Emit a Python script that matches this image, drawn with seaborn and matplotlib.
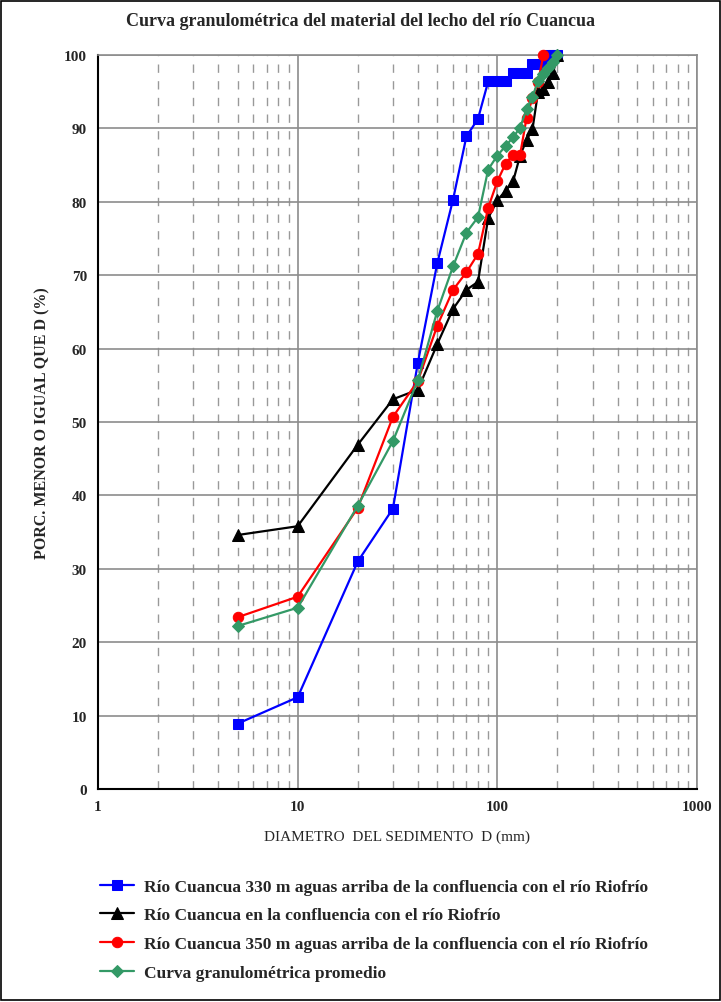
import numpy as np
import pandas as pd
import matplotlib
matplotlib.use('Agg')
from matplotlib import pyplot as plt
from matplotlib.ticker import LogLocator, NullFormatter, FixedLocator
import seaborn as sns

# diametros (mm)
diam = [5, 10, 20, 30, 40, 50, 60, 70, 80, 90, 100, 110, 120, 130, 140,
        150, 160, 170, 180, 190, 200]
diam_rojo = diam[:18]

aguas_arriba_330 = [8.9, 12.5, 31.0, 38.2, 58.1, 71.6, 80.3, 88.9, 91.3, 96.4,
                    96.4, 96.4, 97.6, 97.6, 97.6, 98.8, 98.8, 98.8, 100.0,
                    100.0, 100.0]
confluencia = [34.6, 35.8, 46.9, 53.1, 54.4, 60.6, 65.4, 68.0, 69.1, 77.8,
               80.2, 81.5, 82.8, 86.3, 88.4, 89.9, 95.0, 95.4, 96.3, 97.5,
               100.0]
aguas_arriba_350 = [23.4, 26.2, 38.3, 50.7, 55.6, 63.1, 68.0, 70.4, 72.9, 79.2,
                    82.8, 85.2, 86.4, 86.4, 91.4, 94.2, 96.3, 100.0]
promedio = [22.2, 24.7, 38.6, 47.4, 55.7, 65.1, 71.2, 75.8, 77.9, 84.4,
            86.3, 87.6, 88.8, 90.1, 92.6, 94.3, 96.5, 97.4, 98.2, 99.0,
            100.0]

etiquetas = [
    'Río Cuancua 330 m aguas arriba de la confluencia con el río Riofrío',
    'Río Cuancua en la confluencia con el río Riofrío',
    'Río Cuancua 350 m aguas arriba de la confluencia con el río Riofrío',
    'Curva granulométrica promedio',
]

sns.set_style('white')
plt.rcParams['font.family'] = ['Liberation Serif', 'DejaVu Serif']

fig = plt.figure(figsize=(7.21, 10.03), dpi=100)
ax = fig.add_axes([98 / 721, 1 - 790 / 1003, 599 / 721, 734 / 1003])

series = [
    (diam, aguas_arriba_330, '#0000FF', 's', 7.5),
    (diam, confluencia, '#000000', '^', 8),
    (diam_rojo, aguas_arriba_350, '#FF0000', 'o', 7.5),
    (diam, promedio, '#339966', 'D', 6),
]
for (x, y, col, mk, ms), lab in zip(series, etiquetas):
    df = pd.DataFrame({'D': x, 'P': y})
    sns.lineplot(data=df, x='D', y='P', ax=ax, color=col, marker=mk,
                 markersize=ms, markeredgecolor=col, linewidth=1.6,
                 sort=False, label=lab, clip_on=False, zorder=5)

ax.set_xscale('log')
ax.set_xlim(1, 1000)
ax.set_ylim(0, 100)
ax.xaxis.set_major_locator(FixedLocator([1, 10, 100, 1000]))
ax.xaxis.set_minor_locator(LogLocator(base=10, subs=np.arange(2, 10)))
ax.xaxis.set_minor_formatter(NullFormatter())
ax.set_xticklabels(['1', '10', '100', '1000'])
ax.set_yticks(range(0, 101, 10))

ax.grid(True, which='major', axis='both', color='#8c8c8c', linewidth=1.2,
        linestyle='-')
ax.grid(True, which='minor', axis='x', color='#999999', linewidth=1.0,
        linestyle=(0, (6, 6)))
ax.set_axisbelow(True)

for s in ['top', 'right']:
    ax.spines[s].set_color('#8c8c8c')
    ax.spines[s].set_linewidth(1.2)
for s in ['left', 'bottom']:
    ax.spines[s].set_color('black')
    ax.spines[s].set_linewidth(1.5)

ax.tick_params(axis='both', which='both', length=0, labelsize=11, pad=8)
for t in ax.get_xticklabels() + ax.get_yticklabels():
    t.set_fontweight('bold')

ax.set_xlabel('DIAMETRO  DEL SEDIMENTO  D (mm)', fontsize=11, labelpad=12)
ax.set_ylabel('PORC. MENOR O IGUAL QUE D (%)', fontsize=11.5, fontweight='bold',
              labelpad=10)
fig.text(0.5, 0.979, 'Curva granulométrica del material del lecho del río Cuancua',
         ha='center', va='center', fontsize=13, fontweight='bold')

ax.get_legend().remove()
handles, labels = ax.get_legend_handles_labels()
fig.legend(handles, labels, loc='upper left', bbox_to_anchor=(84 / 721, 1 - 864 / 1003),
           frameon=False, prop={'weight': 'bold', 'size': 12.5},
           handlelength=2.0, labelspacing=0.72, handletextpad=0.55)

# marco de la figura
fig.patches.append(plt.Rectangle((0.002, 0.002), 0.996, 0.996, transform=fig.transFigure,
                                 fill=False, edgecolor='black', linewidth=1.2))

plt.savefig('out.png', dpi=100)
plt.close()
